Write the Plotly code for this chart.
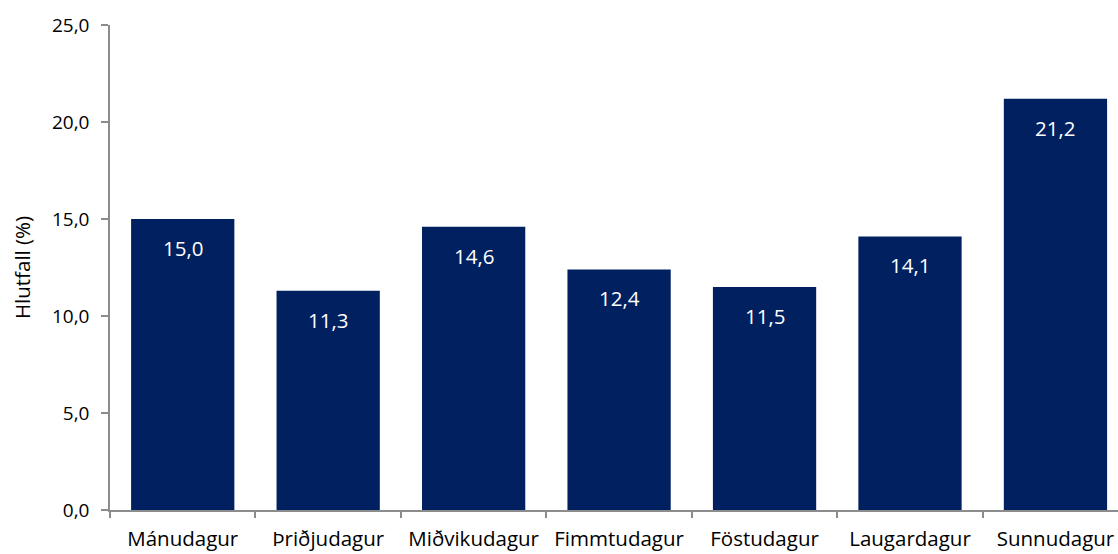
import plotly.graph_objects as go

categories = ["Mánudagur", "Þriðjudagur", "Miðvikudagur", "Fimmtudagur",
              "Föstudagur", "Laugardagur", "Sunnudagur"]
values = [15.0, 11.3, 14.6, 12.4, 11.5, 14.1, 21.2]
y_ticks = [0, 5, 10, 15, 20, 25]

FONT = "Open Sans"
AXIS_COLOR = "#8c8c8c"

fig = go.Figure()
fig.add_trace(go.Bar(
    x=categories, y=values,
    marker=dict(color="#002060", line=dict(width=0)),
    hoverinfo="skip",
))

for c, v in zip(categories, values):
    fig.add_annotation(
        x=c, y=v, text=f"{v:.1f}".replace(".", ","),
        showarrow=False, yanchor="top", yshift=-13,
        font=dict(family=FONT, size=20.5, color="white"),
    )

fig.update_layout(
    width=1118, height=554,
    margin=dict(l=110, r=0, t=25, b=44),
    paper_bgcolor="white", plot_bgcolor="white",
    separators=", ",
    bargap=0.29,
    showlegend=False,
    font=dict(family=FONT, size=20, color="black"),
)
fig.update_xaxes(
    type="category",
    range=[-0.5, 6.43],
    showline=True, linecolor=AXIS_COLOR, linewidth=1.5,
    ticks="outside", tickson="boundaries", ticklen=6, tickcolor=AXIS_COLOR, tickwidth=1.5,
    ticklabelstandoff=10,
    showgrid=False, zeroline=False,
    tickfont=dict(family=FONT, size=20.5, color="black"),
)
fig.update_yaxes(
    range=[0, 25],
    tickvals=y_ticks, tickformat=".1f",
    showline=True, linecolor=AXIS_COLOR, linewidth=1.5,
    ticks="outside", ticklen=7, tickcolor=AXIS_COLOR, tickwidth=1.5,
    ticklabelstandoff=8,
    showgrid=False, zeroline=False,
    tickfont=dict(family=FONT, size=19, color="black"),
    title=dict(text="Hlutfall (%)", font=dict(family=FONT, size=20.5, color="black"), standoff=16),
)

fig.write_html("out.html", config={"displayModeBar": False},
               post_script="document.body.style.margin='0';document.body.style.overflow='hidden';")
